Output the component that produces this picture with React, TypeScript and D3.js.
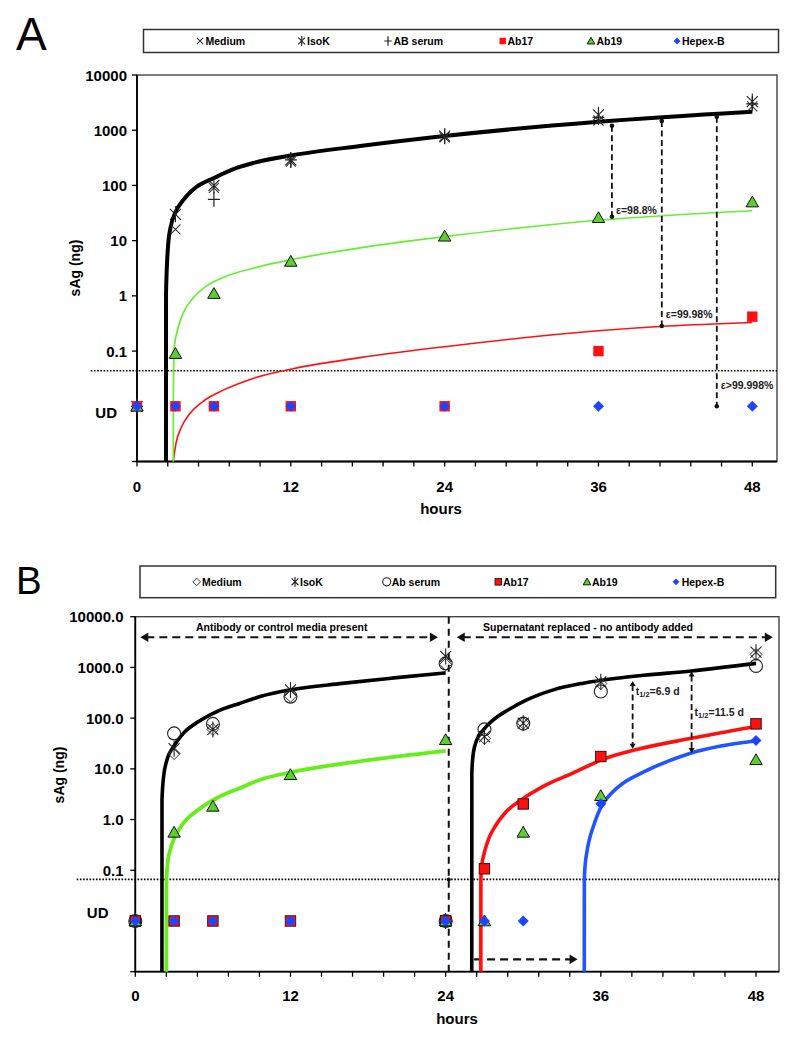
import React from "react";
import * as d3 from "d3";

// ---------------- data ----------------
const UD = 0.01; // "UD" (undetectable) row on the log axis

// Panel A observations
const hoursA = [0, 3, 6, 12, 24, 36, 48];
const mediumA = [UD, 16, 90, 270, 740, 1500, 2700];
const isoKA = [UD, 30, 100, 290, 780, 1900, 3300];
const abSerumA = [UD, null, 56, 290, 780, 1700, 3000];
const ab17A = [UD, UD, UD, UD, UD, 0.1, 0.42];
const ab19A = [UD, 0.09, 1.1, 4.2, 12, 26, 50];
const hepexA = [UD, UD, UD, UD, UD, UD, UD];

// Panel A fitted curves: [hours, ng]
const fitBlackA: [number, number][] = [
  [2.26, 0.001], [2.265, 1.13], [2.44, 9.05], [2.63, 17.9], [2.96, 31.2], [3.61, 54.5],
  [4.65, 94.7], [6, 136], [7.77, 207], [9.06, 255], [12, 348], [17.4, 517],
  [24, 785], [36, 1425], [48, 2165],
];
const fitGreenA: [number, number][] = [
  [2.83, 0.001], [2.835, 0.013], [2.91, 0.12], [3.14, 0.231], [3.61, 0.49], [4.39, 0.92],
  [5.43, 1.52], [6.73, 2.15], [9.5, 3.35], [12, 4.5], [17.4, 7.4], [24, 11.8],
  [36, 23.4], [48, 34.8],
];
const fitRedA: [number, number][] = [
  [2.83, 0.001], [3.04, 0.00213], [3.48, 0.00425], [4.13, 0.0074], [5.3, 0.013],
  [6.73, 0.0196], [9.06, 0.032], [12, 0.047], [17.4, 0.076], [24, 0.12], [36, 0.233],
  [41.4, 0.284], [48, 0.33],
];

// Panel A efficacy brackets: hours, top ng, bottom ng, label
const epsHours = [37.05, 40.94, 45.23];
const epsTop = [1207, 1468, 1758];
const epsBottom = [27.1, 0.284, UD];
const epsLabels = ["\u03b5=98.8%", "\u03b5=99.98%", "\u03b5>99.998%"];
const epsLabelDy = [-7, -12, -21];

// Panel B observations (24 h appears twice: before / after the supernatant swap)
const hoursB = [0, 3, 6, 12, 24, 24, 27, 30, 36, 48];
const mediumB = [UD, 20, 60, 270, 1150, UD, 40, 80, 480, 1800];
const isoKB = [UD, 25, 60, 360, 1650, UD, 43, 80, 520, 2000];
const abSerumB = [UD, 50, 77, 265, 1200, UD, 60, 78, 335, 1070];
const ab17B = [UD, UD, UD, UD, UD, UD, 0.107, 2.03, 17.5, 77];
const ab19B = [UD, 0.56, 1.82, 7.65, 37.4, UD, UD, 0.56, 2.95, 15.1];
const hepexB = [UD, UD, UD, UD, UD, UD, UD, UD, 2.05, 36.4];

// Panel B fitted curves
const fitBlackB1: [number, number][] = [
  [2.06, 0.001], [2.065, 2.47], [2.19, 7.1], [2.45, 15.1], [2.96, 27.6], [3.73, 50.7],
  [4.89, 85.8], [6.31, 135], [8.11, 197], [9.66, 266], [12, 361], [16, 484],
  [20, 621], [24, 780],
];
const fitGreenB1: [number, number][] = [
  [2.4, 0.001], [2.405, 0.0565], [2.5, 0.14], [2.7, 0.255], [3.09, 0.467], [3.73, 0.857],
  [4.89, 1.57], [6.31, 2.66], [8.11, 4.19], [9.66, 6.1], [12, 8.5], [16, 12.6],
  [20, 17.3], [24, 22.7],
];
const fitBlackB2: [number, number][] = [
  [26.02, 0.001], [26.025, 8.3], [26.14, 20.5], [26.41, 37.4], [26.92, 58.9], [27.69, 92.7],
  [28.85, 146], [30.27, 229], [32.33, 361], [34.64, 489], [37.23, 613], [39.28, 700],
  [43, 850], [48, 1200],
];
const fitRedB: [number, number][] = [
  [26.72, 0.001], [26.725, 0.066], [26.79, 0.12], [26.99, 0.22], [27.3, 0.4], [27.82, 0.73],
  [28.59, 1.35], [29.88, 2.47], [31.55, 4.5], [33.87, 8.3], [36.19, 15.5], [38.77, 24],
  [43, 40], [48, 68.4],
];
const fitBlueB: [number, number][] = [
  [34.72, 0.001], [34.725, 0.066], [34.78, 0.12], [34.91, 0.22], [35.11, 0.4], [35.42, 0.73],
  [35.8, 1.35], [36.19, 2.12], [36.84, 3.34], [37.74, 5.25], [39.16, 8.3], [43, 20.5],
  [48, 35.7],
];

// Panel B half-life brackets
const halfHours = [38.46, 43.02];
const halfTop = [542, 826];
const halfBottom = [25, 20.5];
const halfValues = ["6.9 d", "11.5 d"];
const halfLabelDy = [10, 40];

// axes
const yTickValues = [10000, 1000, 100, 10, 1, 0.1];
const yTickLabelsA = ["10000", "1000", "100", "10", "1", "0.1"];
const yTickLabelsB = ["10000.0", "1000.0", "100.0", "10.0", "1.0", "0.1"];
const xTickLabels = [0, 12, 24, 36, 48];
const lodA = 0.044;
const lodB = 0.066;

const legendA = ["Medium", "IsoK", "AB serum", "Ab17", "Ab19", "Hepex-B"];
const legendB = ["Medium", "IsoK", "Ab serum", "Ab17", "Ab19", "Hepex-B"];

// ---------------- drawing ----------------
const FONT = "'Liberation Sans', Arial, Helvetica, sans-serif";
const RED = "#ff1010";
const GREEN_FILL = "#5ccf2e";
const BLUE = "#1f44ff";

function marker(type: string, x: number, y: number, k: number, key: string, outlined = false) {
  const s = (v: number) => v * k;
  switch (type) {
    case "x":
      return (
        <path key={key} d={`M${x - s(5)},${y - s(5)}L${x + s(5)},${y + s(5)}M${x - s(5)},${y + s(5)}L${x + s(5)},${y - s(5)}`}
          stroke="#333" strokeWidth={1.1} fill="none" />
      );
    case "star":
      return (
        <path key={key} d={`M${x - s(5.5)},${y - s(5.5)}L${x + s(5.5)},${y + s(5.5)}M${x - s(5.5)},${y + s(5.5)}L${x + s(5.5)},${y - s(5.5)}M${x},${y - s(8)}L${x},${y + s(8)}`}
          stroke="#222" strokeWidth={1.1} fill="none" />
      );
    case "plus":
      return (
        <path key={key} d={`M${x - s(6)},${y}L${x + s(6)},${y}M${x},${y - s(7.5)}L${x},${y + s(7.5)}`}
          stroke="#222" strokeWidth={1.2} fill="none" />
      );
    case "diamondOpen":
      return (
        <path key={key} d={`M${x},${y - s(6)}L${x + s(6)},${y}L${x},${y + s(6)}L${x - s(6)},${y}Z`}
          stroke="#333" strokeWidth={1} fill="none" />
      );
    case "circleOpen":
      return <circle key={key} cx={x} cy={y} r={s(6.5)} stroke="#222" strokeWidth={1.1} fill="none" />;
    case "square":
      return (
        <rect key={key} x={x - s(5.2)} y={y - s(5.2)} width={s(10.4)} height={s(10.4)} fill={RED}
          stroke={outlined ? "#3a1010" : "none"} strokeWidth={outlined ? 1 : 0} />
      );
    case "triangle":
      return (
        <path key={key} d={`M${x},${y - s(6)}L${x + s(6.2)},${y + s(4.8)}L${x - s(6.2)},${y + s(4.8)}Z`}
          fill={GREEN_FILL} stroke="#111" strokeWidth={1} />
      );
    case "diamond":
      return (
        <path key={key} d={`M${x},${y - s(5.5)}L${x + s(5.5)},${y}L${x},${y + s(5.5)}L${x - s(5.5)},${y}Z`}
          fill={BLUE} stroke="none" />
      );
  }
  return null;
}

function arrowHead(x: number, y: number, dir: "left" | "right" | "up" | "down", size: number, key: string) {
  const l = size, w = size * 0.6;
  let d = "";
  if (dir === "right") d = `M${x},${y}L${x - l},${y - w}L${x - l},${y + w}Z`;
  if (dir === "left") d = `M${x},${y}L${x + l},${y - w}L${x + l},${y + w}Z`;
  if (dir === "up") d = `M${x},${y}L${x - w},${y + l}L${x + w},${y + l}Z`;
  if (dir === "down") d = `M${x},${y}L${x - w},${y - l}L${x + w},${y - l}Z`;
  return <path key={key} d={d} fill="#111" />;
}

type Scale = (v: number) => number;

function Axes(props: {
  x: Scale; y: Scale; right: number; yLabels: string[]; labelRight: number;
  udLabelX: number; udLabelDy: number; xLabelY: number; hoursX: number; hoursY: number;
  titleX: number; titleY: number; lod: number; lodX1: number;
}) {
  const { x, y, right, yLabels, labelRight } = props;
  const top = y(10000), bottom = y(0.001), left = x(0);
  const xTicks = d3.range(0, 21).map((i) => i * 2.4);
  return (
    <g>
      <rect x={left} y={top} width={right - left} height={bottom - top} fill="none" stroke="#444" strokeWidth={1.4} />
      <line x1={left} x2={left} y1={top} y2={bottom + 0.5} stroke="#000" strokeWidth={1.8} />
      <line x1={left} x2={right} y1={bottom} y2={bottom} stroke="#000" strokeWidth={1.8} />
      {yTickValues.concat([0.001]).map((v, i) => (
        <line key={"yt" + i} x1={left - 5} x2={left} y1={y(v)} y2={y(v)} stroke="#000" strokeWidth={1.3} />
      ))}
      {xTicks.map((t, i) => (
        <line key={"xt" + i} x1={x(t)} x2={x(t)} y1={bottom} y2={bottom + 5} stroke="#000" strokeWidth={1.3} />
      ))}
      {yTickValues.map((v, i) => (
        <text key={"yl" + i} x={labelRight} y={y(v)} textAnchor="end" dominantBaseline="central"
          fontFamily={FONT} fontWeight="bold" fontSize={15}>{yLabels[i]}</text>
      ))}
      <text x={props.udLabelX} y={y(UD) + props.udLabelDy} textAnchor="end" dominantBaseline="central"
        fontFamily={FONT} fontWeight="bold" fontSize={15}>UD</text>
      {xTickLabels.map((t) => (
        <text key={"xl" + t} x={x(t)} y={props.xLabelY} textAnchor="middle" dominantBaseline="central"
          fontFamily={FONT} fontWeight="bold" fontSize={15}>{t}</text>
      ))}
      <text x={props.hoursX} y={props.hoursY} textAnchor="middle" dominantBaseline="central"
        fontFamily={FONT} fontWeight="bold" fontSize={15}>hours</text>
      <text transform={`translate(${props.titleX},${props.titleY}) rotate(-90)`} textAnchor="middle"
        dominantBaseline="central" fontFamily={FONT} fontWeight="bold" fontSize={14}>sAg (ng)</text>
      <line x1={props.lodX1} x2={right} y1={y(props.lod)} y2={y(props.lod)} stroke="#000"
        strokeWidth={1.6} strokeDasharray="1.6,1.6" />
    </g>
  );
}

function Legend(props: { x: number; y: number; w: number; h: number; labels: string[]; types: string[];
  markerX: number[]; textX: number[]; outlined: boolean }) {
  const cy = props.y + props.h / 2;
  return (
    <g>
      <rect x={props.x} y={props.y} width={props.w} height={props.h} fill="#fff" stroke="#333" strokeWidth={1.5} />
      {props.labels.map((lab, i) => (
        <g key={lab}>
          {marker(props.types[i], props.markerX[i], cy, 0.62, "lm" + i, props.outlined)}
          <text x={props.textX[i]} y={cy} dominantBaseline="central" fontFamily={FONT} fontWeight="bold"
            fontSize={10.5}>{lab}</text>
        </g>
      ))}
    </g>
  );
}

function points(hours: number[], vals: (number | null)[], type: string, x: Scale, y: Scale, key: string, outlined = false) {
  return hours.map((t, i) => {
    const v = vals[i];
    if (v == null) return null;
    return marker(type, x(t), y(v), 1, key + i, outlined);
  });
}

export default function App() {
  const xA = d3.scaleLinear().domain([0, 48]).range([137, 752.3]);
  const yA = d3.scaleLog().domain([0.001, 10000]).range([461.5, 75]);
  const xB = d3.scaleLinear().domain([0, 48]).range([135.3, 756]);
  const yB = d3.scaleLog().domain([0.001, 10000]).range([971.7, 616.7]);

  const lineA = d3.line<[number, number]>().x((d) => xA(d[0])).y((d) => yA(d[1])).curve(d3.curveMonotoneX);
  const lineB = d3.line<[number, number]>().x((d) => xB(d[0])).y((d) => yB(d[1])).curve(d3.curveMonotoneX);

  const typesA = ["x", "star", "plus", "square", "triangle", "diamond"];
  const typesB = ["diamondOpen", "star", "circleOpen", "square", "triangle", "diamond"];

  return (
    <svg width={800} height={1038} viewBox="0 0 800 1038"
      style={{ position: "absolute", left: 0, top: 0, background: "#fff" }}>
      <rect x={0} y={0} width={800} height={1038} fill="#fff" />

      {/* ---------------- Panel A ---------------- */}
      <text x={16} y={50} fontFamily={FONT} fontSize={46}>A</text>
      <Legend x={143.5} y={29.5} w={635} h={23} labels={legendA} types={typesA}
        markerX={[200, 301.7, 388, 502.7, 591, 677]} textX={[205.5, 307, 393.5, 507.5, 596.5, 682]} outlined={false} />
      <Axes x={xA} y={yA} right={777} yLabels={yTickLabelsA} labelRight={127} udLabelX={117} udLabelDy={6.5}
        xLabelY={486} hoursX={441} hoursY={508} titleX={75} titleY={268} lod={lodA} lodX1={90.7} />

      <path d={lineA(fitRedA) || ""} fill="none" stroke={RED} strokeWidth={1.6} />
      <path d={lineA(fitGreenA) || ""} fill="none" stroke="#66ee33" strokeWidth={1.7} />
      <path d={lineA(fitBlackA) || ""} fill="none" stroke="#000" strokeWidth={4} />

      {epsHours.map((t, i) => (
        <g key={"eps" + i}>
          <line x1={xA(t)} x2={xA(t)} y1={yA(epsTop[i])} y2={yA(epsBottom[i])} stroke="#111" strokeWidth={1.8}
            strokeDasharray="6,3.5" />
          <circle cx={xA(t)} cy={yA(epsTop[i])} r={2.3} fill="#111" />
          <circle cx={xA(t)} cy={yA(epsBottom[i])} r={2.3} fill="#111" />
          <text x={xA(t) + 4} y={yA(epsBottom[i]) + epsLabelDy[i]} dominantBaseline="central" fontFamily={FONT}
            fontSize={10.5} fontWeight="bold" fill="#222">{epsLabels[i]}</text>
        </g>
      ))}

      {points(hoursA, mediumA, "x", xA, yA, "mA")}
      {points(hoursA, isoKA, "star", xA, yA, "iA")}
      {points(hoursA, abSerumA, "plus", xA, yA, "sA")}
      {points(hoursA, ab17A, "square", xA, yA, "rA")}
      {points(hoursA, ab19A, "triangle", xA, yA, "gA")}
      {points(hoursA, hepexA, "diamond", xA, yA, "bA")}

      {/* ---------------- Panel B ---------------- */}
      <text x={16} y={594.3} fontFamily={FONT} fontSize={38.5}>B</text>
      <Legend x={140} y={566} w={635.7} h={31.7} labels={legendB} types={typesB}
        markerX={[196.7, 295, 386.7, 498.3, 587, 676]} textX={[202, 300, 391.7, 503, 592, 681.7]} outlined={true} />
      <Axes x={xB} y={yB} right={779} yLabels={yTickLabelsB} labelRight={123.5} udLabelX={108.5} udLabelDy={-8}
        xLabelY={995} hoursX={457} hoursY={1018} titleX={59} titleY={775} lod={lodB} lodX1={76.7} />

      {/* supernatant replacement line */}
      <line x1={xB(24.24)} x2={xB(24.24)} y1={yB(10000)} y2={yB(0.001)} stroke="#111" strokeWidth={2}
        strokeDasharray="7,5" />
      <circle cx={xB(24.24)} cy={yB(lodB)} r={2} fill="#111" />

      {/* period arrows */}
      <line x1={xB(0.39) + 6} x2={xB(23.4) - 6} y1={yB(3930)} y2={yB(3930)} stroke="#111" strokeWidth={2}
        strokeDasharray="8,5" />
      {arrowHead(xB(0.39), yB(3930), "left", 8, "a1")}
      {arrowHead(xB(23.4), yB(3930), "right", 8, "a2")}
      <line x1={xB(24.86) + 6} x2={xB(49.3) - 6} y1={yB(3930)} y2={yB(3930)} stroke="#111" strokeWidth={2}
        strokeDasharray="8,5" />
      {arrowHead(xB(24.86), yB(3930), "left", 8, "a3")}
      {arrowHead(xB(49.3), yB(3930), "right", 8, "a4")}
      <text x={281.7} y={yB(3930) - 10.5} textAnchor="middle" dominantBaseline="central" fontFamily={FONT}
        fontWeight="bold" fontSize={10.5}>Antibody or control media present</text>
      <text x={588} y={yB(3930) - 10.5} textAnchor="middle" dominantBaseline="central" fontFamily={FONT}
        fontWeight="bold" fontSize={10.5}>{"Supernatant replaced  - no antibody added"}</text>

      <line x1={xB(26.2)} x2={xB(34.2) - 6} y1={yB(0.00175)} y2={yB(0.00175)} stroke="#111" strokeWidth={2.2}
        strokeDasharray="8,5" />
      {arrowHead(xB(34.2), yB(0.00175), "right", 8, "a5")}

      <path d={lineB(fitGreenB1) || ""} fill="none" stroke="#66ee1a" strokeWidth={3.8} />
      <path d={lineB(fitBlackB1) || ""} fill="none" stroke="#000" strokeWidth={3.6} />
      <path d={lineB(fitBlackB2) || ""} fill="none" stroke="#000" strokeWidth={3.6} />
      <path d={lineB(fitRedB) || ""} fill="none" stroke={RED} strokeWidth={3.6} />
      <path d={lineB(fitBlueB) || ""} fill="none" stroke="#2255ff" strokeWidth={3.6} />

      {halfHours.map((t, i) => (
        <g key={"half" + i}>
          <line x1={xB(t)} x2={xB(t)} y1={yB(halfTop[i]) + 4} y2={yB(halfBottom[i]) - 4} stroke="#111"
            strokeWidth={1.8} strokeDasharray="6,3.5" />
          {arrowHead(xB(t), yB(halfTop[i]), "up", 5, "hu" + i)}
          {arrowHead(xB(t), yB(halfBottom[i]), "down", 5, "hd" + i)}
          <text x={xB(t) + 3} y={yB(halfTop[i]) + halfLabelDy[i]} dominantBaseline="central" fontFamily={FONT}
            fontWeight="bold" fontSize={10.5} fill="#222">
            t<tspan fontSize={7.5} dy={3}>1/2</tspan><tspan dy={-3}>{"=" + halfValues[i]}</tspan>
          </text>
        </g>
      ))}

      {points(hoursB, mediumB, "diamondOpen", xB, yB, "mB")}
      {points(hoursB, isoKB, "star", xB, yB, "iB")}
      {points(hoursB, abSerumB, "circleOpen", xB, yB, "sB")}
      {points(hoursB, ab17B, "square", xB, yB, "rB", true)}
      {points(hoursB, ab19B, "triangle", xB, yB, "gB")}
      {points(hoursB, hepexB, "diamond", xB, yB, "bB")}
    </svg>
  );
}
